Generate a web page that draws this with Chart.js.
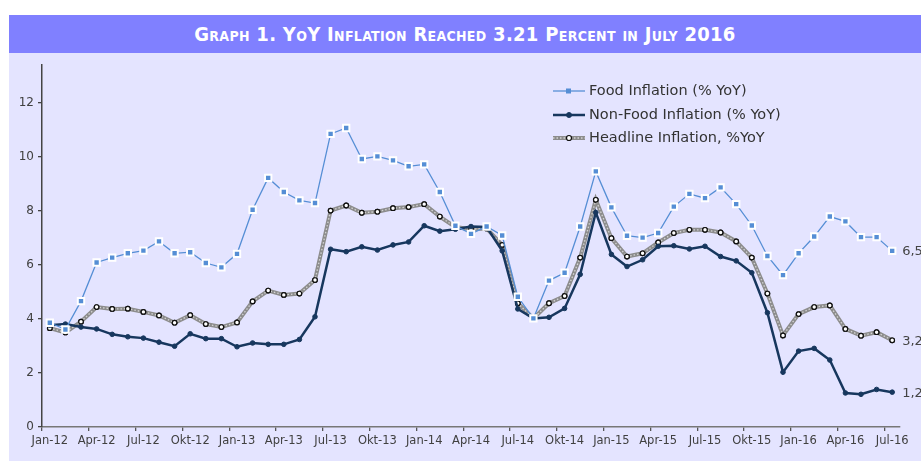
<!DOCTYPE html>
<html>
<head>
<meta charset="utf-8">
<script src="https://cdn.jsdelivr.net/npm/chart.js@4/dist/chart.umd.min.js"></script>
<style>
  html, body { margin: 0; padding: 0; background: #fff; }
  #wrap { position: relative; width: 921px; height: 461px; overflow: hidden; }
  #panel { position: absolute; left: 9px; top: 53px; right: 0; bottom: 0; background: #e4e4ff; }
  #head {
    position: absolute; left: 9px; top: 15px; right: 0; height: 38px; background: #8080ff;
    color: #fff; font: bold 20px "Liberation Sans Narrow", "DejaVu Sans Condensed", sans-serif;
    font-variant: small-caps; text-align: center; line-height: 38px; letter-spacing: 0.3px;
  }
  #cv { position: absolute; left: 0; top: 0; }
</style>
</head>
<body>
<div id="wrap">
  <div id="panel"></div>
  <div id="head">Graph 1. YoY Inflation Reached 3.21 Percent in July 2016</div>
  <canvas id="cv" width="921" height="461"></canvas>
</div>
<script>
const months = ['Jan-12','Feb-12','Mar-12','Apr-12','May-12','Jun-12','Jul-12','Aug-12','Sep-12','Okt-12','Nov-12','Dec-12',
  'Jan-13','Feb-13','Mar-13','Apr-13','May-13','Jun-13','Jul-13','Aug-13','Sep-13','Okt-13','Nov-13','Dec-13',
  'Jan-14','Feb-14','Mar-14','Apr-14','May-14','Jun-14','Jul-14','Aug-14','Sep-14','Okt-14','Nov-14','Dec-14',
  'Jan-15','Feb-15','Mar-15','Apr-15','May-15','Jun-15','Jul-15','Aug-15','Sep-15','Okt-15','Nov-15','Dec-15',
  'Jan-16','Feb-16','Mar-16','Apr-16','May-16','Jun-16','Jul-16'];

const food = [3.86,3.61,4.66,6.09,6.27,6.43,6.53,6.87,6.43,6.47,6.07,5.91,
  6.41,8.04,9.22,8.70,8.39,8.29,10.85,11.07,9.92,10.02,9.87,9.65,
  9.72,8.70,7.45,7.15,7.42,7.09,4.82,4.02,5.42,5.71,7.42,9.46,
  8.13,7.08,7.01,7.18,8.16,8.63,8.47,8.87,8.25,7.46,6.33,5.62,
  6.43,7.05,7.79,7.61,7.03,7.03,6.52];

const nonFood = [3.77,3.81,3.70,3.63,3.43,3.34,3.29,3.14,2.99,3.45,3.27,3.27,
  2.97,3.11,3.06,3.06,3.24,4.08,6.58,6.49,6.67,6.55,6.74,6.85,
  7.45,7.25,7.32,7.42,7.40,6.52,4.37,4.02,4.06,4.39,5.65,7.94,
  6.39,5.94,6.19,6.69,6.71,6.59,6.69,6.31,6.15,5.71,4.23,2.03,
  2.81,2.91,2.48,1.26,1.21,1.39,1.29];

const headline = [3.66,3.50,3.90,4.44,4.37,4.38,4.26,4.13,3.86,4.14,3.81,3.70,
  3.87,4.65,5.05,4.89,4.94,5.44,8.01,8.20,7.93,7.97,8.10,8.14,
  8.25,7.79,7.40,7.32,7.35,6.74,4.58,4.02,4.58,4.85,6.27,8.41,
  6.99,6.31,6.43,6.83,7.18,7.30,7.30,7.20,6.87,6.27,4.94,3.39,
  4.18,4.44,4.50,3.63,3.38,3.51,3.21];

const yTicks = [0, 2, 4, 6, 8, 10, 12];

const FONT = '"DejaVu Sans", sans-serif';

// dotted light stripe inside the thick headline line
const stripePlugin = {
  id: 'stripe',
  afterDatasetDraw(chart, args) {
    if (args.index !== 2) return;
    const ctx = chart.ctx;
    const pts = args.meta.data;
    ctx.save();
    ctx.strokeStyle = '#d4d4d4';
    ctx.lineWidth = 1.3;
    ctx.setLineDash([1.5, 2]);
    ctx.beginPath();
    pts.forEach((p, i) => i ? ctx.lineTo(p.x, p.y) : ctx.moveTo(p.x, p.y));
    ctx.stroke();
    ctx.restore();
    pts.forEach(p => p.draw(ctx));
  }
};

// legend in top right + end-of-line value labels
const legendPlugin = {
  id: 'sideLegend',
  afterDraw(chart) {
    const ctx = chart.ctx;
    const rows = [91, 115, 138];
    ctx.save();
    ctx.textBaseline = 'middle';
    chart.data.datasets.forEach((ds, i) => {
      const y = rows[i];
      ctx.beginPath();
      ctx.moveTo(553, y);
      ctx.lineTo(585, y);
      ctx.strokeStyle = ds.borderColor;
      ctx.lineWidth = ds.borderWidth;
      ctx.stroke();
      if (i === 2) {
        ctx.save();
        ctx.strokeStyle = '#d4d4d4';
        ctx.lineWidth = 1.3;
        ctx.setLineDash([1.5, 2]);
        ctx.beginPath(); ctx.moveTo(553, y); ctx.lineTo(585, y); ctx.stroke();
        ctx.restore();
      }
      ctx.beginPath();
      if (ds.pointStyle === 'rect') {
        ctx.fillStyle = ds.pointBackgroundColor;
        ctx.fillRect(566, y - 2.5, 5, 5);
      } else {
        ctx.arc(569, y, 2.5, 0, Math.PI * 2);
        ctx.fillStyle = ds.pointBackgroundColor;
        ctx.fill();
        ctx.lineWidth = ds.pointBorderWidth;
        ctx.strokeStyle = ds.pointBorderColor;
        ctx.stroke();
      }
      ctx.font = '14.5px ' + FONT;
      ctx.fillStyle = '#333';
      ctx.fillText(ds.label, 589, y);

      const meta = chart.getDatasetMeta(i);
      const last = meta.data[meta.data.length - 1];
      const v = ds.data[ds.data.length - 1];
      ctx.font = '13px ' + FONT;
      ctx.fillStyle = '#444';
      ctx.fillText((Math.floor(v * 10) / 10).toFixed(1).replace('.', ','), last.x + 10, last.y + 1);
    });
    ctx.restore();
  }
};

const cv = document.getElementById('cv');
const InflationChart = new Chart(cv, {
  type: 'line',
  data: {
    labels: months,
    datasets: [{
      label: 'Food Inflation (% YoY)',
      data: food,
      borderColor: '#558ed5',
      borderWidth: 1.3,
      pointStyle: 'rect',
      pointRadius: 4.5,
      pointBackgroundColor: '#558ed5',
      pointBorderColor: '#ffffff',
      pointBorderWidth: 2,
      tension: 0,
    }, {
      label: 'Non-Food Inflation (% YoY)',
      data: nonFood,
      borderColor: '#17375e',
      borderWidth: 2.5,
      pointRadius: 2.3,
      pointBackgroundColor: '#17375e',
      pointBorderColor: '#17375e',
      pointBorderWidth: 1,
      tension: 0,
    }, {
      label: 'Headline Inflation, %YoY',
      data: headline,
      borderColor: '#8c8c8c',
      borderWidth: 4,
      pointRadius: 2.3,
      pointBackgroundColor: '#ffffff',
      pointBorderColor: '#111111',
      pointBorderWidth: 1.2,
      tension: 0,
    }]
  },
  options: {
    responsive: false,
    animation: false,
    layout: { padding: { top: 65, right: 21, left: 0, bottom: 0 } },
    plugins: {
      legend: { display: false },
      tooltip: { enabled: false },
    },
    scales: {
      x: {
        type: 'category',
        offset: true,
        afterFit(s) { s.height = 34; },
        grid: {
          offset: true,
          drawOnChartArea: false,
          tickLength: 4,
          lineWidth: 1.3,
          color: c => (c.index % 3 === 0 ? '#555' : 'rgba(0,0,0,0)'),
        },
        border: { display: true, color: '#777', width: 1.5 },
        ticks: {
          autoSkip: false,
          maxRotation: 0,
          padding: 3,
          color: '#404040',
          font: { family: FONT, size: 11.5 },
          callback(v, i) { return i % 3 === 0 ? months[i] : ''; },
        },
      },
      y: {
        min: 0,
        max: 13.4,
        afterFit(s) { s.width = 42; },
        afterBuildTicks(s) { s.ticks = yTicks.map(v => ({ value: v })); },
        grid: { drawOnChartArea: false, tickLength: 4, color: '#444', lineWidth: 1.3 },
        border: { display: true, color: '#444', width: 1.5 },
        ticks: {
          padding: 4,
          color: '#404040',
          font: { family: FONT, size: 12 },
        },
      }
    }
  },
  plugins: [stripePlugin, legendPlugin]
});
</script>
</body>
</html>
